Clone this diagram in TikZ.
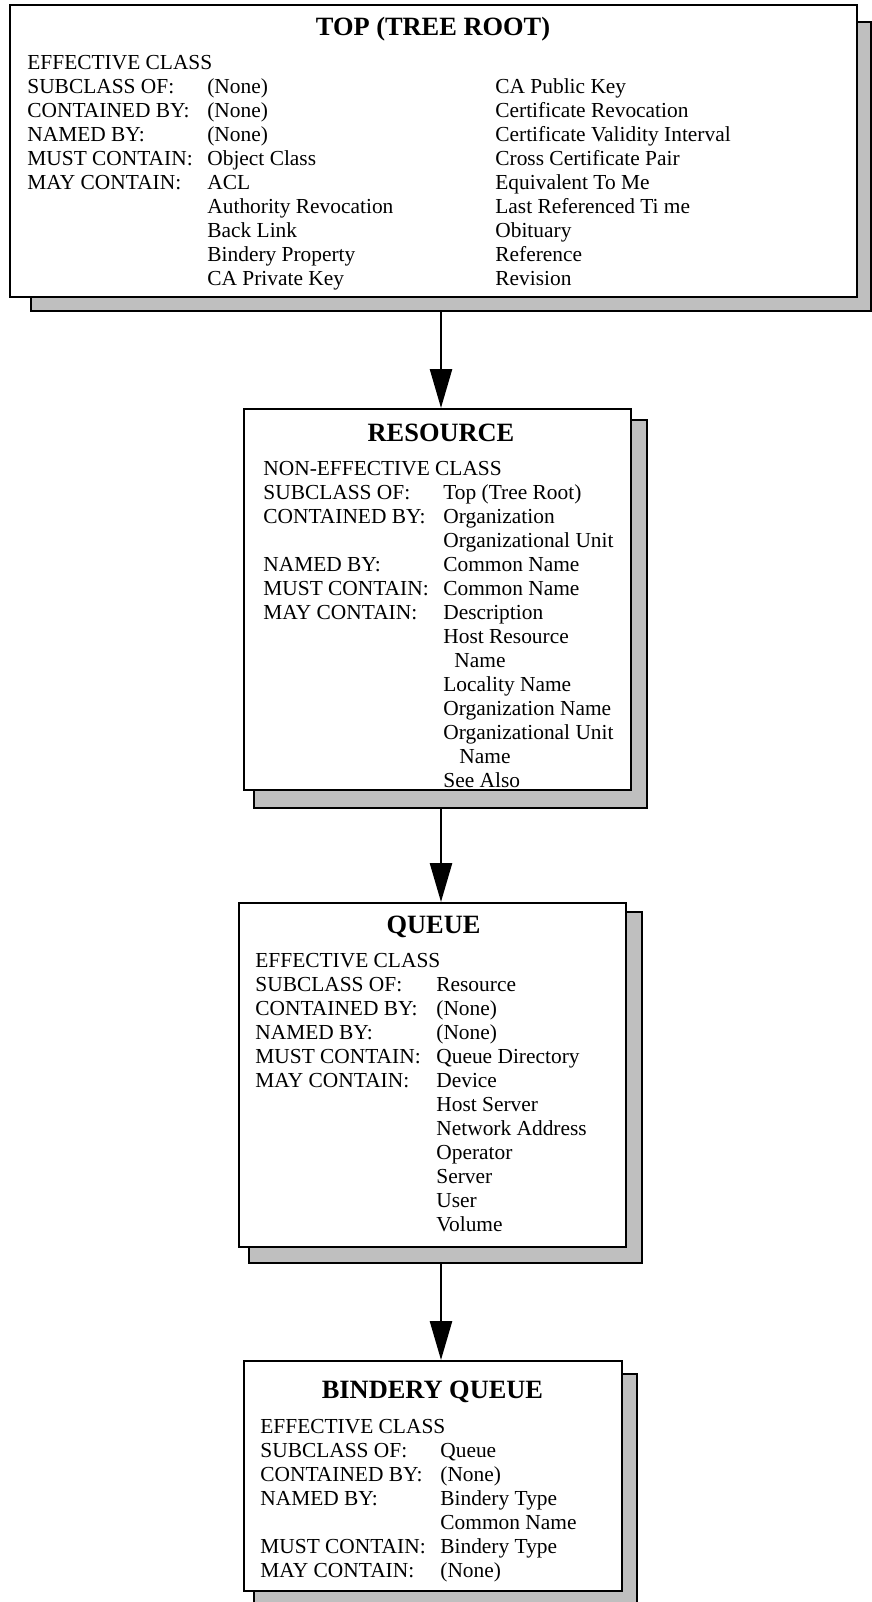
\documentclass[tikz,border=0pt]{standalone}
\usepackage{fontspec}
\setmainfont{Liberation Serif}
\usetikzlibrary{arrows.meta,fit}
\definecolor{shadowgray}{gray}{0.75}

\begin{document}
\begin{tikzpicture}[x=0.5pt,y=-0.5pt,
    classbox/.style={draw,line width=1pt,fill=white,inner sep=0pt},
    shadowbox/.style={draw,line width=1pt,fill=shadowgray,inner sep=0pt},
    classtitle/.style={anchor=base,inner sep=0pt,font=\fontsize{13.2}{15}\selectfont\bfseries},
    classbody/.style={anchor=base west,inner sep=0pt,font=\fontsize{10.7}{12}\selectfont},
    link/.style={-{Triangle[width=11pt,length=19.5pt]},line width=1.3pt}]
  \useasboundingbox (0,0) rectangle (872,1602);
  \coordinate (axis) at (441,0);

  % shadows first, boxes on top
  \node[shadowbox,fit={(31,22) (871,311)}]     (topshadow)   {};
  \node[shadowbox,fit={(254,420) (647,808)}]   (resshadow)   {};
  \node[shadowbox,fit={(249,912) (642,1263)}]  (queueshadow) {};
  \node[shadowbox,fit={(254,1374) (637,1620)}] (binshadow)   {};

  \node[classbox,fit={(9.5,5) (857,297)}]    (top)      {};
  \node[classbox,fit={(244,409) (631,790)}]  (resource) {};
  \node[classbox,fit={(239,903) (626,1247)}] (queue)    {};
  \node[classbox,fit={(244,1361) (622,1591)}] (bindery) {};

  % top
  \node[classtitle] (toptitle) at (433,35) {TOP (TREE ROOT)};
  \node[classbody]  (topbody)  at (27,69) {\begin{tabular}[t]{@{}p{90pt}@{}p{144pt}@{}l@{}}
    \multicolumn{3}{@{}l@{}}{EFFECTIVE CLASS}\\
    SUBCLASS OF:   & (None)               & CA Public Key\\
    CONTAINED BY:  & (None)               & Certificate Revocation\\
    NAMED BY:      & (None)               & Certificate Validity Interval\\
    MUST CONTAIN:  & Object Class         & Cross Certificate Pair\\
    MAY CONTAIN:   & ACL                  & Equivalent To Me\\
                   & Authority Revocation & Last Referenced Ti me\\
                   & Back Link            & Obituary\\
                   & Bindery Property     & Reference\\
                   & CA Private Key       & Revision
  \end{tabular}};

  % resource
  \node[classtitle] (restitle) at (441,441) {RESOURCE};
  \node[classbody]  (resbody)  at (263,475) {\begin{tabular}[t]{@{}p{90pt}@{}l@{}}
    \multicolumn{2}{@{}l@{}}{NON-EFFECTIVE CLASS}\\
    SUBCLASS OF:   & Top (Tree Root)\\
    CONTAINED BY:  & Organization\\
                   & Organizational Unit\\
    NAMED BY:      & Common Name\\
    MUST CONTAIN:  & Common Name\\
    MAY CONTAIN:   & Description\\
                   & Host Resource\\
                   & \hspace*{5.5pt}Name\\
                   & Locality Name\\
                   & Organization Name\\
                   & Organizational Unit\\
                   & \hspace*{8pt}Name\\
                   & See Also
  \end{tabular}};

  % queue
  \node[classtitle] (queuetitle) at (433.5,933) {QUEUE};
  \node[classbody]  (queuebody)  at (255,967) {\begin{tabular}[t]{@{}p{90.5pt}@{}l@{}}
    \multicolumn{2}{@{}l@{}}{EFFECTIVE CLASS}\\
    SUBCLASS OF:   & Resource\\
    CONTAINED BY:  & (None)\\
    NAMED BY:      & (None)\\
    MUST CONTAIN:  & Queue Directory\\
    MAY CONTAIN:   & Device\\
                   & Host Server\\
                   & Network Address\\
                   & Operator\\
                   & Server\\
                   & User\\
                   & Volume
  \end{tabular}};

  % bindery queue
  \node[classtitle] (bintitle) at (432.5,1398) {BINDERY QUEUE};
  \node[classbody]  (binbody)  at (260,1433) {\begin{tabular}[t]{@{}p{90pt}@{}l@{}}
    \multicolumn{2}{@{}l@{}}{EFFECTIVE CLASS}\\
    SUBCLASS OF:   & Queue\\
    CONTAINED BY:  & (None)\\
    NAMED BY:      & Bindery Type\\
                   & Common Name\\
    MUST CONTAIN:  & Bindery Type\\
    MAY CONTAIN:   & (None)
  \end{tabular}};

  \draw[link] (topshadow.south -| axis)   -- (resource.north -| axis);
  \draw[link] (resshadow.south -| axis)   -- (queue.north -| axis);
  \draw[link] (queueshadow.south -| axis) -- (bindery.north -| axis);
\end{tikzpicture}
\end{document}
